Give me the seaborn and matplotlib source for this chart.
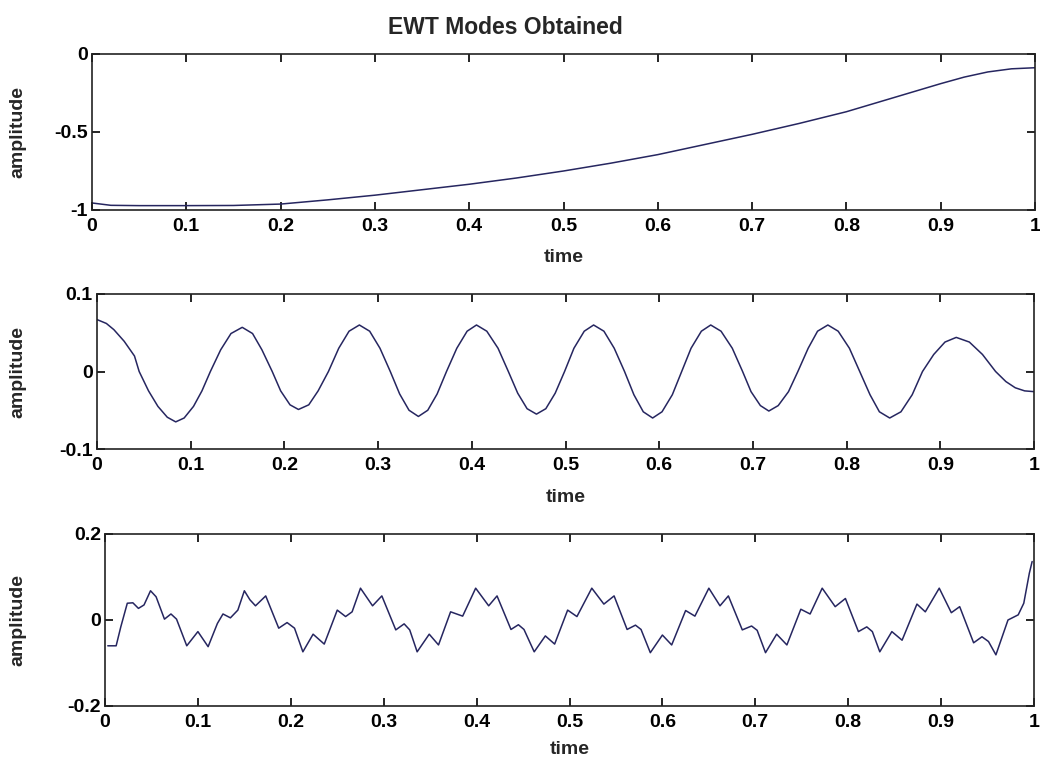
import numpy as np
import pandas as pd
import matplotlib
matplotlib.use("Agg")
import matplotlib.pyplot as plt
import seaborn as sns

# ---------------- data ----------------
title_text = "EWT Modes Obtained"
x_label = "time"
y_label = "amplitude"

x_ticks = [0, 0.1, 0.2, 0.3, 0.4, 0.5, 0.6, 0.7, 0.8, 0.9, 1.0]
x_tick_labels = ["0", "0.1", "0.2", "0.3", "0.4", "0.5", "0.6", "0.7", "0.8", "0.9", "1"]

# Mode 1 (trend)
mode1_t = [0.0, 0.02, 0.05, 0.10, 0.15, 0.20, 0.25, 0.30, 0.35, 0.40, 0.45, 0.50,
           0.55, 0.60, 0.65, 0.70, 0.75, 0.80, 0.85, 0.90, 0.925, 0.95, 0.975, 1.0]
mode1_v = [-0.955, -0.97, -0.972, -0.972, -0.971, -0.962, -0.935, -0.905, -0.87, -0.835,
           -0.795, -0.75, -0.70, -0.645, -0.58, -0.515, -0.445, -0.37, -0.28, -0.19,
           -0.148, -0.115, -0.095, -0.088]
mode1_yticks = [-1, -0.5, 0]
mode1_ytick_labels = ["-1", "-0.5", "0"]
mode1_ylim = (-1, 0)

# Mode 2 (oscillation)
mode2_t = [0.000, 0.010, 0.018, 0.029, 0.040, 0.045, 0.055, 0.065, 0.075, 0.084, 0.093, 0.103,
           0.112, 0.121, 0.132, 0.143, 0.155, 0.166, 0.176, 0.187, 0.196, 0.206, 0.215, 0.226,
           0.236, 0.247, 0.258, 0.269, 0.280, 0.291, 0.302, 0.313, 0.323, 0.333, 0.343, 0.353,
           0.363, 0.373, 0.384, 0.395, 0.405, 0.416, 0.428, 0.439, 0.449, 0.459, 0.469, 0.479,
           0.489, 0.499, 0.509, 0.520, 0.530, 0.541, 0.552, 0.563, 0.573, 0.583, 0.593, 0.603,
           0.614, 0.624, 0.634, 0.645, 0.655, 0.666, 0.678, 0.689, 0.698, 0.708, 0.717, 0.727,
           0.738, 0.748, 0.759, 0.769, 0.780, 0.791, 0.803, 0.814, 0.825, 0.835, 0.846, 0.858,
           0.870, 0.881, 0.893, 0.905, 0.917, 0.931, 0.945, 0.959, 0.970, 0.980, 0.990, 1.000]
mode2_v = [0.067, 0.062, 0.054, 0.039, 0.020, 0.000, -0.025, -0.045, -0.059, -0.065, -0.060, -0.045,
           -0.025, 0.000, 0.028, 0.049, 0.057, 0.049, 0.028, 0.000, -0.025, -0.043, -0.049, -0.043,
           -0.025, 0.000, 0.030, 0.052, 0.060, 0.052, 0.030, 0.000, -0.029, -0.050, -0.058, -0.050,
           -0.029, 0.000, 0.030, 0.052, 0.060, 0.052, 0.030, 0.000, -0.028, -0.048, -0.055, -0.048,
           -0.028, 0.000, 0.030, 0.052, 0.060, 0.052, 0.030, 0.000, -0.030, -0.052, -0.060, -0.052,
           -0.030, 0.000, 0.030, 0.052, 0.060, 0.052, 0.030, 0.000, -0.026, -0.044, -0.051, -0.044,
           -0.026, 0.000, 0.030, 0.052, 0.060, 0.052, 0.030, 0.000, -0.030, -0.052, -0.060, -0.052,
           -0.030, 0.000, 0.022, 0.038, 0.044, 0.038, 0.022, 0.000, -0.013, -0.021, -0.025, -0.026]
mode2_yticks = [-0.1, 0, 0.1]
mode2_ytick_labels = ["-0.1", "0", "0.1"]
mode2_ylim = (-0.1, 0.1)

# Mode 3 (ripple)
mode3_t = [0.003, 0.012, 0.017, 0.024, 0.030, 0.036, 0.042, 0.049, 0.055, 0.064, 0.071, 0.077,
           0.088, 0.100, 0.111, 0.121, 0.127, 0.135, 0.143, 0.150, 0.156, 0.162, 0.173, 0.187,
           0.196, 0.204, 0.213, 0.224, 0.236, 0.250, 0.259, 0.266, 0.275, 0.288, 0.298, 0.313,
           0.322, 0.328, 0.336, 0.349, 0.359, 0.372, 0.385, 0.399, 0.413, 0.422, 0.437, 0.445,
           0.451, 0.462, 0.474, 0.484, 0.498, 0.508, 0.524, 0.537, 0.548, 0.562, 0.571, 0.577,
           0.587, 0.600, 0.610, 0.625, 0.635, 0.650, 0.662, 0.671, 0.686, 0.696, 0.702, 0.711,
           0.723, 0.734, 0.749, 0.759, 0.772, 0.786, 0.797, 0.811, 0.820, 0.826, 0.834, 0.847,
           0.858, 0.874, 0.883, 0.898, 0.911, 0.920, 0.935, 0.944, 0.951, 0.959, 0.972, 0.983,
           0.989, 0.995, 0.998]
mode3_v = [-0.060, -0.060, -0.016, 0.039, 0.040, 0.027, 0.035, 0.068, 0.054, 0.002, 0.014, 0.002,
           -0.060, -0.027, -0.062, -0.008, 0.014, 0.005, 0.023, 0.068, 0.047, 0.033, 0.056, -0.019,
           -0.006, -0.019, -0.074, -0.033, -0.056, 0.023, 0.008, 0.019, 0.074, 0.033, 0.056, -0.023,
           -0.009, -0.023, -0.074, -0.033, -0.058, 0.019, 0.009, 0.074, 0.033, 0.056, -0.022, -0.011,
           -0.022, -0.074, -0.037, -0.056, 0.023, 0.008, 0.074, 0.037, 0.056, -0.022, -0.012, -0.022,
           -0.076, -0.035, -0.058, 0.022, 0.009, 0.074, 0.033, 0.056, -0.023, -0.014, -0.024, -0.076,
           -0.033, -0.058, 0.025, 0.014, 0.074, 0.031, 0.050, -0.027, -0.016, -0.027, -0.074, -0.027,
           -0.047, 0.037, 0.019, 0.074, 0.017, 0.031, -0.053, -0.039, -0.050, -0.081, 0.000, 0.012,
           0.039, 0.109, 0.136]
mode3_yticks = [-0.2, 0, 0.2]
mode3_ytick_labels = ["-0.2", "0", "0.2"]
mode3_ylim = (-0.2, 0.2)

# ---------------- style ----------------
sns.set_style("ticks")
plt.rcParams["font.family"] = ["Liberation Sans", "DejaVu Sans"]
plt.rcParams["font.weight"] = "bold"

line_color = "#262660"
W, H = 1040, 771
fig = plt.figure(figsize=(W / 100, H / 100), dpi=100)
fig.patch.set_facecolor("white")

# axes boxes in pixels: left, top, right, bottom ; xlabel centre y
boxes = [(92, 54, 1035, 210, 258), (97, 294, 1034, 449, 497), (105, 534, 1034, 706, 750)]

panels = [
    (mode1_t, mode1_v, mode1_yticks, mode1_ytick_labels, mode1_ylim),
    (mode2_t, mode2_v, mode2_yticks, mode2_ytick_labels, mode2_ylim),
    (mode3_t, mode3_v, mode3_yticks, mode3_ytick_labels, mode3_ylim),
]

fs = 14
for (l, t, r, b, xl_y), (tt, vv, yt, ytl, yl) in zip(boxes, panels):
    ax = fig.add_axes([l / W, (H - b) / H, (r - l) / W, (b - t) / H])
    df = pd.DataFrame({"time": tt, "amplitude": vv})
    sns.lineplot(data=df, x="time", y="amplitude", ax=ax, color=line_color,
                 linewidth=1.1, estimator=None, sort=False)
    ax.set_xlim(0, 1)
    ax.set_ylim(*yl)
    ax.set_xticks(x_ticks)
    ax.set_xticklabels(x_tick_labels, fontsize=fs, fontweight="bold")
    ax.set_yticks(yt)
    ax.set_yticklabels(ytl, fontsize=fs, fontweight="bold")
    ax.tick_params(direction="in", length=6, width=1.2, top=True, right=True,
                   colors="black")
    ax.tick_params(axis="x", pad=6)
    ax.tick_params(axis="y", pad=3)
    for s in ax.spines.values():
        s.set_visible(True)
        s.set_linewidth(1.2)
        s.set_color("#222222")
    ax.set_xlabel(x_label, fontsize=fs, fontweight="bold")
    ax.set_ylabel(y_label, fontsize=fs, fontweight="bold")
    ax.xaxis.set_label_coords(((l + r) / 2) / W, 1 - xl_y / H, transform=fig.transFigure)
    ax.xaxis.label.set_va("center")
    ax.yaxis.set_label_coords(18 / W, 1 - ((t + b) / 2) / H, transform=fig.transFigure)
    ax.yaxis.label.set_va("center")
    ax.set_facecolor("white")

fig.text(505 / W, 1 - 27 / H, title_text, ha="center", va="center",
         fontsize=16.5, fontweight="bold")

fig.savefig("out.png", dpi=100)
